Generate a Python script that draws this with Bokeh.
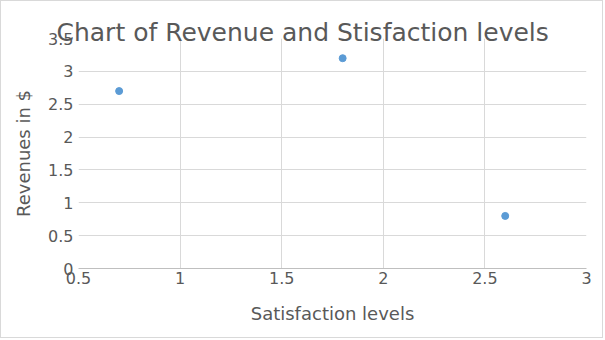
from bokeh.plotting import figure
from bokeh.models import Range1d, FixedTicker, Title
from bokeh.embed import file_html
from bokeh.resources import INLINE

# Data
satisfaction = [0.7, 1.8, 2.6]
revenue = [2.7, 3.2, 0.8]
x_ticks = [0.5, 1, 1.5, 2, 2.5, 3]
y_ticks = [0, 0.5, 1, 1.5, 2, 2.5, 3, 3.5]
title_text = "Chart of Revenue and Stisfaction levels"
x_label = "Satisfaction levels"
y_label = "Revenues in $"

FONT = "DejaVu Sans"
TXT = "#595959"
GRID = "#d9d9d9"

p = figure(width=603, height=338, output_backend="svg", toolbar_location=None,
           x_range=Range1d(0.5, 3), y_range=Range1d(0, 3.5),
           min_border_left=77, min_border_right=18, min_border_top=37, min_border_bottom=71,
           styles={"border": "1px solid #d9d9d9"})
p.outline_line_color = None
p.background_fill_color = "white"
p.border_fill_color = "white"

p.scatter(satisfaction, revenue, size=7, color="#5b9bd5", marker="circle")

for ax, ticks in ((p.xaxis[0], x_ticks), (p.yaxis[0], y_ticks)):
    ax.ticker = FixedTicker(ticks=ticks)
    ax.major_tick_line_color = None
    ax.minor_tick_line_color = None
    ax.major_tick_out = 0
    ax.major_tick_in = 0
    ax.major_label_text_font = FONT
    ax.major_label_text_font_size = "16px"
    ax.major_label_text_color = TXT
    ax.axis_label_text_font = FONT
    ax.axis_label_text_font_size = "18px"
    ax.axis_label_text_color = TXT
    ax.axis_label_text_font_style = "normal"

p.xaxis[0].axis_label = x_label
p.yaxis[0].axis_label = y_label
p.xaxis[0].axis_line_color = "#bfbfbf"
p.yaxis[0].axis_line_color = None
p.xaxis[0].major_label_standoff = 3
p.yaxis[0].major_label_standoff = 5
p.xaxis[0].axis_label_standoff = 16
p.yaxis[0].axis_label_standoff = 11

p.xgrid.grid_line_color = GRID
p.ygrid.grid_line_color = GRID
p.xgrid.ticker = FixedTicker(ticks=x_ticks)
p.ygrid.ticker = FixedTicker(ticks=y_ticks)

p.title = Title(text=title_text, align="left", text_font=FONT,
                text_font_size="25px", text_color=TXT, text_font_style="normal",
                standoff=-17, offset=-22)

open("out.html", "w").write(file_html(p, INLINE))
